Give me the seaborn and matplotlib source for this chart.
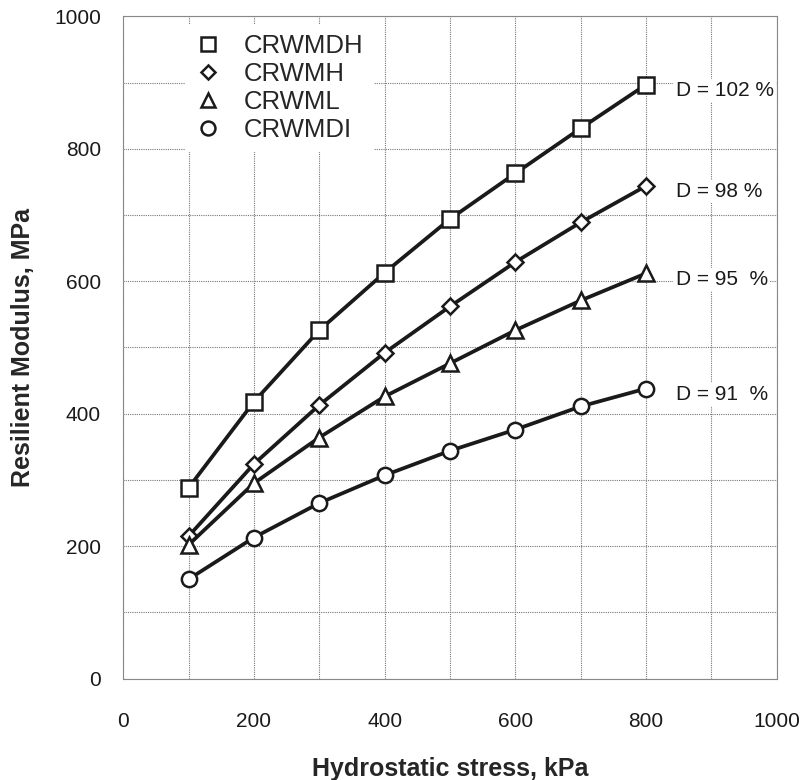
import matplotlib
matplotlib.use("Agg")
import matplotlib.pyplot as plt
from matplotlib.lines import Line2D
import seaborn as sns
import pandas as pd

stress = [100, 200, 300, 400, 500, 600, 700, 800]
crwmdh = [288, 418, 526, 613, 694, 763, 831, 897]
crwmh = [215, 324, 413, 492, 562, 629, 689, 744]
crwml = [202, 295, 364, 426, 476, 526, 571, 612]
crwmdi = [150, 213, 265, 307, 344, 376, 411, 438]
series_names = ["CRWMDH", "CRWMH", "CRWML", "CRWMDI"]
density_labels = ["D = 102 %", "D = 98 %", "D = 95  %", "D = 91  %"]
x_ticks = [0, 200, 400, 600, 800, 1000]
y_ticks = [0, 200, 400, 600, 800, 1000]

sns.set_theme(style="white")
plt.rcParams["font.family"] = ["Liberation Sans", "DejaVu Sans"]

fig = plt.figure(figsize=(8.05, 7.8), dpi=100)
ax = fig.add_axes([0.153, 0.130, 0.812, 0.849])

values = [crwmdh, crwmh, crwml, crwmdi]
markers = ["s", "D", "^", "o"]
msizes = [11, 8, 11, 11]
frames = []
for name, vals in zip(series_names, values):
    frames.append(pd.DataFrame({"stress": stress, "modulus": vals, "series": name}))
df = pd.concat(frames, ignore_index=True)

for name, mk, ms in zip(series_names, markers, msizes):
    sub = df[df["series"] == name]
    sns.lineplot(data=sub, x="stress", y="modulus", ax=ax, color="#1a1a1a",
                 linewidth=2.7, marker=mk, markersize=ms,
                 markerfacecolor="white", markeredgecolor="#1a1a1a",
                 markeredgewidth=1.8, zorder=5, legend=False)

ax.set_xlim(0, 1000)
ax.set_ylim(0, 1000)
ax.set_xticks(x_ticks)
ax.set_yticks(y_ticks)
ax.set_xticks(range(0, 1001, 100), minor=True)
ax.set_yticks(range(0, 1001, 100), minor=True)
ax.grid(which="both", color="#777777", linestyle=(0, (1, 1)), linewidth=0.8)
ax.tick_params(axis="both", which="both", length=0, labelsize=15, colors="#1a1a1a")
ax.tick_params(axis="x", pad=24)
ax.tick_params(axis="y", pad=16)
for sp in ax.spines.values():
    sp.set_visible(True)
    sp.set_color("#888888")
    sp.set_linestyle((0, (1, 1)))
    sp.set_linewidth(0.8)

ax.set_xlabel("Hydrostatic stress, kPa", fontsize=18, fontweight="bold", labelpad=19)
ax.set_ylabel("Resilient Modulus, MPa", fontsize=18, fontweight="bold", labelpad=14)

for lab, vals in zip(density_labels, values):
    ax.text(845, vals[-1] - 9, lab, fontsize=15, va="center", ha="left", color="#1a1a1a",
            bbox=dict(facecolor="white", edgecolor="none", pad=1.5), zorder=6)

handles = [Line2D([], [], linestyle="none", marker=mk, markersize=ms,
                  markerfacecolor="white", markeredgecolor="#1a1a1a", markeredgewidth=1.8)
           for mk, ms in zip(markers, [10, 7, 10, 10])]
leg = ax.legend(handles, series_names, loc="upper left", bbox_to_anchor=(0.075, 1.008),
                fontsize=18.5, frameon=True, facecolor="white", edgecolor="none",
                framealpha=1, handlelength=1.0, handletextpad=0.9, labelspacing=0.15,
                borderpad=0.4, fancybox=False)
leg.set_zorder(7)

fig.savefig("out.png", dpi=100)
